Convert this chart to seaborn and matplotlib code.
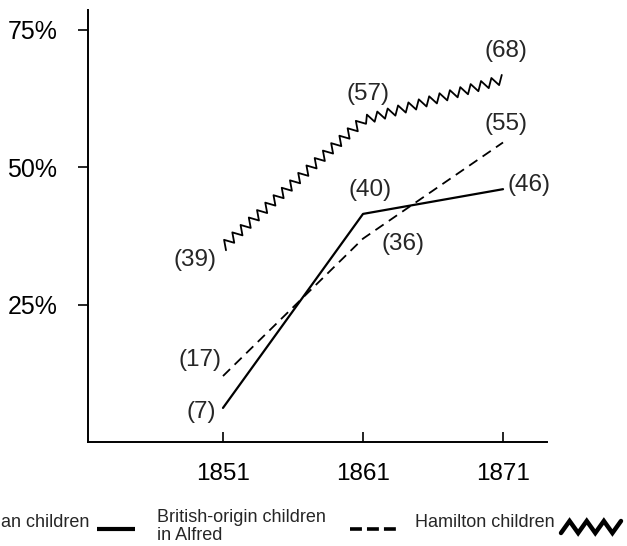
import numpy as np
import seaborn as sns
import matplotlib.pyplot as plt
from matplotlib.lines import Line2D
from matplotlib.path import Path
from matplotlib.patheffects import AbstractPathEffect
from matplotlib.transforms import Affine2D

# values
years = [1851, 1861, 1871]
first_pct = [6.2, 41.5, 46.0]        # solid line
first_n = [7, 40, 46]
british_pct = [12.0, 37.0, 54.5]     # dashed line, British-origin children in Alfred
british_n = [17, 36, 55]
hamilton_pct = [35.5, 58.5, 66.0]    # zigzag line, Hamilton children
hamilton_n = [39, 57, 68]
y_ticks = [25, 50, 75]
legend_labels = ["an children", "British-origin children\nin Alfred", "Hamilton children"]

W, H = 627, 546


class ZigZag(AbstractPathEffect):
    """Draw the path as a saw-tooth line, teeth square to the path (pixels)."""

    def __init__(self, step=6.0, amp=5.0):
        super().__init__()
        self.step = step
        self.amp = amp

    def draw_path(self, renderer, gc, tpath, affine, rgbFace=None):
        verts = affine.transform(tpath.vertices)
        pts = []
        k = 0
        for j, (p0, p1) in enumerate(zip(verts[:-1], verts[1:])):
            d = p1 - p0
            length = np.hypot(*d)
            normal = np.array([-d[1], d[0]]) / length
            n = max(int(round(length / self.step)), 1)
            for i in range(0 if j == 0 else 1, n + 1):
                off = self.amp if k % 2 else -self.amp
                pts.append(p0 + d * i / n + normal * off)
                k += 1
        renderer.draw_path(gc, Path(np.array(pts)), Affine2D(), rgbFace)


def fx(px):
    return px / W


def fy(py):
    return 1 - py / H


sns.set_style("white")
plt.rcParams["font.family"] = ["Liberation Sans", "DejaVu Sans"]

fig = plt.figure(figsize=(W / 100, H / 100), dpi=100)
ax = fig.add_axes([fx(88), fy(442), (547 - 88) / W, (442 - 10) / H])

sns.lineplot(x=years, y=first_pct, color="black", lw=1.6, ax=ax)
sns.lineplot(x=years, y=british_pct, color="black", lw=1.3, ax=ax)
ax.lines[-1].set_dashes((5.5, 3.5))
sns.lineplot(x=years, y=hamilton_pct, color="black", lw=1.3, ax=ax)
ax.lines[-1].set_path_effects([ZigZag(5.5, 4.5)])

# label offsets from each point, in pixels
offsets = [
    (first_pct, first_n, [(-22, -4), (7, 24), (26, 4)]),
    (british_pct, british_n, [(-23, 16), (40, -5), (3, 18)]),
    (hamilton_pct, hamilton_n, [(-28, -13), (5, 26), (3, 28)]),
]
for vals, ns, offs in offsets:
    for x, y, n, (dx, dy) in zip(years, vals, ns, offs):
        ax.annotate(f"({n})", (x, y), xytext=(dx, dy), textcoords="offset pixels",
                    ha="center", va="center", fontsize=17.5)

ax.set_xlim(1841.36, 1874.14)
ax.set_ylim(0, 78.6)
ax.set_xticks(years)
ax.set_yticks(y_ticks)
ax.set_yticklabels([f"{t}%" for t in y_ticks])
ax.tick_params(axis="y", left=True, direction="out", length=7, width=1.2, pad=15,
               labelsize=18, color="black", labelcolor="black")
ax.tick_params(axis="x", bottom=True, direction="in", length=7, width=1.2, pad=15,
               labelsize=17.5, color="black", labelcolor="black")
sns.despine(ax=ax)
for side in ["left", "bottom"]:
    ax.spines[side].set_linewidth(1.4)
    ax.spines[side].set_color("black")

# legend along the bottom edge: label first, then its line sample
fig.text(fx(1), fy(527), legend_labels[0], fontsize=13, va="baseline")
fig.add_artist(Line2D([fx(97), fx(135)], [fy(529)] * 2, color="black", lw=3,
                      solid_capstyle="butt", transform=fig.transFigure))
fig.text(fx(157), fy(509), legend_labels[1], fontsize=13, va="top", linespacing=1.05)
dash = Line2D([fx(350), fx(397)], [fy(529)] * 2, color="black", lw=2.6,
              dash_capstyle="butt", transform=fig.transFigure)
dash.set_dashes((3.3, 1.4))
fig.add_artist(dash)
fig.text(fx(415), fy(527), legend_labels[2], fontsize=13, va="baseline")
fig.add_artist(Line2D([fx(561), fx(621)], [fy(527)] * 2, color="black", lw=3.2,
                      solid_joinstyle="miter", transform=fig.transFigure,
                      path_effects=[ZigZag(8.6, 6.0)]))

fig.savefig("out.png", dpi=100)
